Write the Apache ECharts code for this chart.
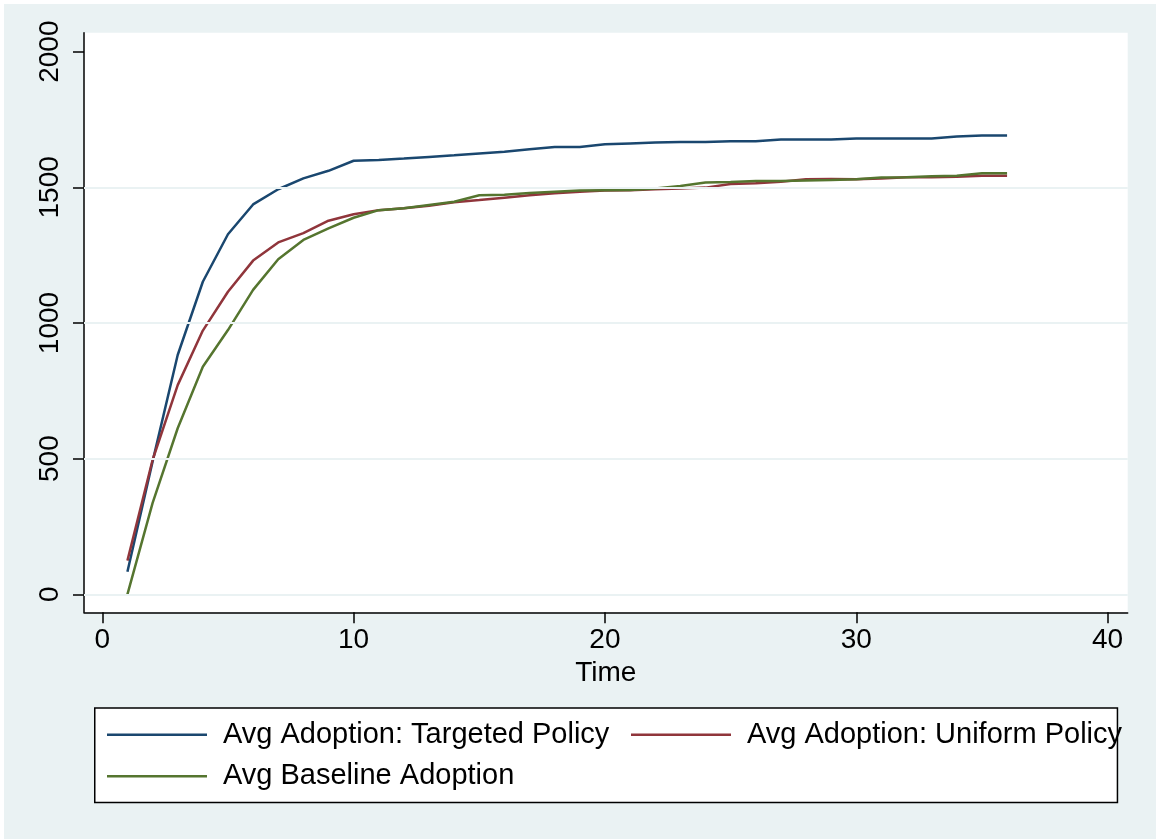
<!DOCTYPE html>
<html>
<head>
<meta charset="utf-8">
<script src="https://cdn.jsdelivr.net/npm/echarts@6/dist/echarts.min.js"></script>
<style>
  html, body { margin: 0; padding: 0; background: #fff; }
  #main { position: absolute; left: 4px; top: 4px; width: 1152px; height: 835px; }
</style>
</head>
<body>
<div id="main"></div>
<script>
// time periods
var time = [];
for (var t = 1; t <= 36; t++) time.push(t);

var targeted = [83, 489, 882, 1152, 1327, 1437, 1493, 1533, 1561, 1598, 1601, 1606, 1612, 1618, 1625, 1631, 1640, 1649,
  1649, 1659, 1662, 1665, 1667, 1667, 1670, 1670, 1676, 1676, 1676, 1680, 1680, 1680, 1680, 1687, 1691, 1691];
var uniform = [124, 495, 771, 972, 1115, 1230, 1297, 1331, 1377, 1401, 1416, 1423, 1432, 1445, 1453, 1462, 1471, 1478,
  1484, 1488, 1489, 1493, 1496, 1499, 1512, 1515, 1521, 1530, 1531, 1530, 1533, 1537, 1537, 1539, 1543, 1543];
var baseline = [0, 336, 612, 839, 974, 1122, 1235, 1306, 1349, 1388, 1416, 1423, 1435, 1447, 1471, 1473, 1479, 1484,
  1488, 1489, 1490, 1496, 1505, 1518, 1520, 1523, 1523, 1525, 1527, 1530, 1536, 1537, 1541, 1543, 1552, 1552];

var xTicks = [0, 10, 20, 30, 40];
var yTicks = [0, 500, 1000, 1500, 2000];
var gridVals = [0, 500, 1000, 1500];

var names = ['Avg Adoption: Targeted Policy', 'Avg Adoption: Uniform Policy', 'Avg Baseline Adoption'];
var colors = ['#1a476f', '#90353b', '#55752f'];

function pairs(arr) {
  return arr.map(function (v, i) { return [time[i], v]; });
}

var font = '"Liberation Sans", Arial, sans-serif';
var chart = echarts.init(document.getElementById('main'));

// stata style legend: plain line key, no marker
var legendBase = {
  padding: 0,
  icon: 'rect',
  itemWidth: 100,
  itemHeight: 2.5,
  textStyle: { fontFamily: font, fontSize: 29, color: '#000', padding: [0, 0, 0, 11] }
};

chart.setOption({
  backgroundColor: '#eaf2f3',
  animation: false,
  grid: {
    left: 80, top: 28.7, width: 1043.7, height: 579.6,
    show: true, backgroundColor: '#fff', borderWidth: 0
  },
  xAxis: {
    type: 'value',
    min: -0.728, max: 40.8,
    name: 'Time',
    nameLocation: 'middle',
    nameGap: 45,
    nameTextStyle: { fontFamily: font, fontSize: 28, color: '#000' },
    axisLine: { show: true, onZero: false, lineStyle: { color: '#000', width: 1.5 } },
    axisTick: { show: true, length: 11, customValues: xTicks, lineStyle: { color: '#000', width: 1.5 } },
    axisLabel: { customValues: xTicks, fontFamily: font, fontSize: 28, color: '#000', margin: 14 },
    splitLine: { show: false }
  },
  yAxis: {
    type: 'value',
    min: -66.3, max: 2070,
    axisLine: { show: true, onZero: false, lineStyle: { color: '#000', width: 1.5 } },
    axisTick: { show: true, length: 11, customValues: yTicks, lineStyle: { color: '#000', width: 1.5 } },
    axisLabel: {
      customValues: yTicks, rotate: 90, fontFamily: font, fontSize: 28, color: '#000', margin: 20,
      formatter: function (v) { return String(v); }
    },
    splitLine: { show: false }
  },
  legend: [
    Object.assign({ data: [names[0]], left: 103, top: 716.3 }, legendBase),
    Object.assign({ data: [names[1]], left: 627, top: 716.3 }, legendBase),
    Object.assign({ data: [names[2]], left: 103, top: 757.7 }, legendBase)
  ],
  graphic: [{
    type: 'rect',
    left: 90, top: 703.3, z: -1,
    shape: { width: 1022.7, height: 94.4 },
    style: { fill: '#fff', stroke: '#000', lineWidth: 1.5 }
  }],
  series: [
    {
      name: 'grid',
      type: 'line',
      data: [],
      silent: true,
      z: 1,
      markLine: {
        silent: true,
        symbol: 'none',
        label: { show: false },
        lineStyle: { color: '#eaf2f3', width: 2, type: 'solid' },
        data: gridVals.map(function (v) { return { yAxis: v }; })
      }
    },
    {
      name: names[0], type: 'line', data: pairs(targeted), symbol: 'none', z: 3,
      lineStyle: { color: colors[0], width: 2.5 }, itemStyle: { color: colors[0] }
    },
    {
      name: names[1], type: 'line', data: pairs(uniform), symbol: 'none', z: 3,
      lineStyle: { color: colors[1], width: 2.5 }, itemStyle: { color: colors[1] }
    },
    {
      name: names[2], type: 'line', data: pairs(baseline), symbol: 'none', z: 3,
      lineStyle: { color: colors[2], width: 2.5 }, itemStyle: { color: colors[2] }
    }
  ]
});
</script>
</body>
</html>
